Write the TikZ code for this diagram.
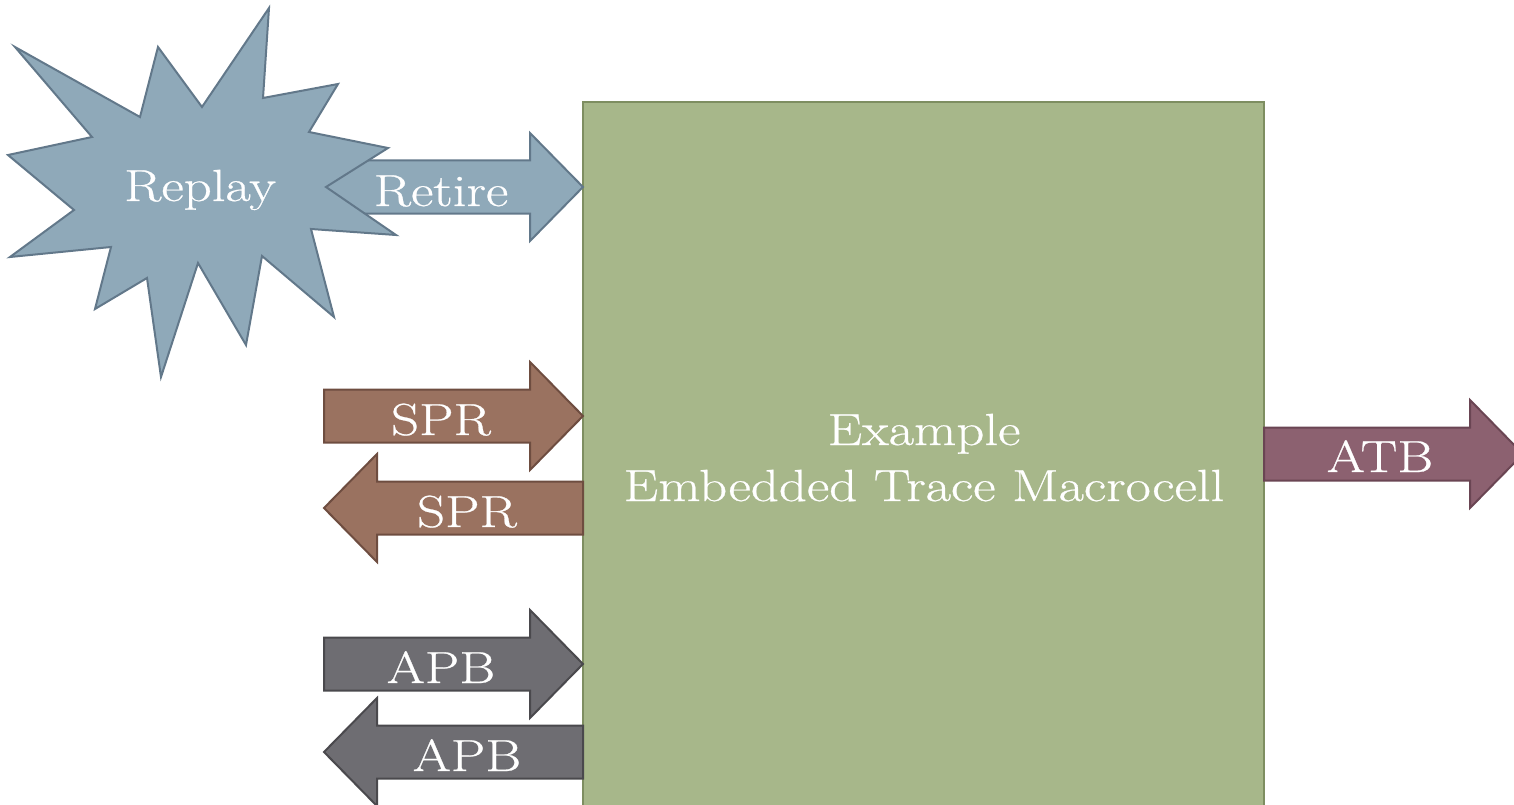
\documentclass[tikz,border=0pt]{standalone}
\usepackage{fontspec}
\setmainfont{Latin Modern Roman}[FakeStretch=1.22, FakeBold=0.6]
\definecolor{etmfill}{HTML}{A7B78A}
\definecolor{etmline}{HTML}{7E8E61}
\definecolor{blufill}{HTML}{8FA9B9}
\definecolor{bluline}{HTML}{62788A}
\definecolor{sprfill}{HTML}{9A7260}
\definecolor{sprline}{HTML}{6E4D40}
\definecolor{apbfill}{HTML}{6E6D72}
\definecolor{apbline}{HTML}{4A494D}
\definecolor{atbfill}{HTML}{8C6170}
\definecolor{atbline}{HTML}{6A4553}
\tikzset{
  % block arrow, tip at the pic origin, pointing right
  pics/blockarrow/.style={code={
    \draw[pic actions] (0,0) -- (-53,-54) -- (-53,-26.5) -- (-259,-26.5)
      -- (-259,26.5) -- (-53,26.5) -- (-53,54) -- cycle;}},
  bluarrow/.style={fill=blufill, draw=bluline, line width=2pt, line join=miter},
  sprarrow/.style={fill=sprfill, draw=sprline, line width=2pt, line join=miter},
  apbarrow/.style={fill=apbfill, draw=apbline, line width=2pt, line join=miter},
  atbarrow/.style={fill=atbfill, draw=atbline, line width=2pt, line join=miter},
  lbl/.style={text=white, font=\fontsize{45}{50}\selectfont, anchor=base, inner sep=0pt},
}
\begin{document}
\begin{tikzpicture}[x=1pt, y=-1pt]
\useasboundingbox (0,0) rectangle (1514,805);

% main block
\draw[fill=etmfill, draw=etmline, line width=2pt] (583,102) rectangle (1264,812);

% retire arrow (tail hidden under the burst)
\pic[bluarrow] at (583,187) {blockarrow};

% replay burst
\draw[fill=blufill, draw=bluline, line width=2pt, line join=miter]
  (15,47) -- (140,117) -- (158,47) -- (202,107) -- (269,8) -- (263,98)
  -- (338,84) -- (309,132) -- (388,148) -- (326,187) -- (396,235)
  -- (311,229) -- (334,317) -- (262,256) -- (246,345) -- (198,263)
  -- (161,377) -- (147,278) -- (95,309) -- (111,247) -- (10,257)
  -- (74,210) -- (8,155) -- (92,137) -- cycle;

% interface arrows
\pic[sprarrow] at (583,416) {blockarrow};
\pic[sprarrow, xscale=-1] at (324,508) {blockarrow};
\pic[apbarrow] at (583,664) {blockarrow};
\pic[apbarrow, xscale=-1] at (324,752) {blockarrow};
\pic[atbarrow] at (1523,454) {blockarrow};

% labels
\node[lbl] (replay) at (200,201) {Replay};
\node[lbl] (retire) at (441,206) {Retire};
\node[lbl] (sprin)  at (441,435) {SPR};
\node[lbl] (sprout) at (467,527) {SPR};
\node[lbl] (apbin)  at (441,683) {APB};
\node[lbl] (apbout) at (467,771) {APB};
\node[lbl] (atb)    at (1380,472) {ATB};
\node[lbl] (title1) at (924,445) {Example};
\node[lbl] (title2) at (924,501) {Embedded Trace Macrocell};
\end{tikzpicture}
\end{document}
